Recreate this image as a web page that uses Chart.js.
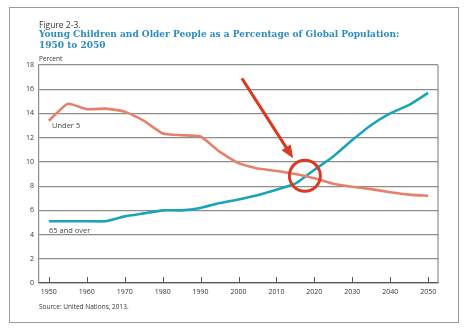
<!DOCTYPE html>
<html>
<head>
<meta charset="utf-8">
<script src="https://cdn.jsdelivr.net/npm/chart.js@4"></script>
<style>
  html, body { margin: 0; padding: 0; background: #fff; }
  #wrap { position: relative; width: 470px; height: 333px; overflow: hidden; }
  #frame { position: absolute; left: 9px; top: 7px; width: 448px; height: 314px; border: 1px solid #9a9a9a; }
  canvas { position: absolute; left: 0; top: 0; }
  .txt { position: absolute; font-family: "Open Sans", sans-serif; color: #333; white-space: nowrap; }
  #fig { left: 39px; top: 19px; font-size: 8.5px; }
  #title { left: 39px; top: 28px; font-family: "DejaVu Serif Condensed", "DejaVu Serif", serif; font-stretch: condensed; font-weight: bold; font-size: 10px; line-height: 11px; color: #2a8bc6; }
  #unit { left: 39px; top: 54px; font-size: 6.5px; }
  #src { left: 39px; top: 302px; font-size: 6.5px; }
  .lab { font-size: 7.5px; color: #444; }
</style>
</head>
<body>
<div id="wrap">
  <div id="frame"></div>
  <canvas id="chart" width="470" height="333"></canvas>
  <div class="txt" id="fig">Figure 2-3.</div>
  <div class="txt" id="title">Young Children and Older People as a Percentage of Global Population:<br>1950 to 2050</div>
  <div class="txt" id="unit">Percent</div>
  <div class="txt" id="src">Source: United Nations, 2013.</div>
  <div class="txt lab" id="labU5" style="left:52px;top:120px;">Under 5</div>
  <div class="txt lab" id="lab65" style="left:49px;top:225px;">65 and over</div>
</div>
<script>
const years = [1950, 1955, 1960, 1965, 1970, 1975, 1980, 1985, 1990, 1995, 2000,
  2005, 2010, 2015, 2020, 2025, 2030, 2035, 2040, 2045, 2050];
const under5 = [13.4, 14.8, 14.35, 14.4, 14.15, 13.4, 12.35, 12.2, 12.1, 10.85, 9.9,
  9.45, 9.25, 9.0, 8.65, 8.2, 7.95, 7.75, 7.5, 7.3, 7.2];
const over65 = [5.1, 5.1, 5.1, 5.1, 5.5, 5.75, 6.0, 6.0, 6.2, 6.6, 6.9,
  7.25, 7.7, 8.2, 9.35, 10.45, 11.8, 13.05, 14.0, 14.7, 15.7];
const xTicks = [1950, 1960, 1970, 1980, 1990, 2000, 2010, 2020, 2030, 2040, 2050];
const yTicks = [0, 2, 4, 6, 8, 10, 12, 14, 16, 18];

// annotation: arrow pointing at the crossover, and a circle round it
const arrowFrom = { x: 2000.9, y: 16.9 };
const arrowTo = { x: 2014.4, y: 10.3 };
const ringAt = { x: 2017.5, y: 8.85 };

const red = '#d93a22';

const annotate = {
  id: 'annotate',
  afterDatasetsDraw(chart) {
    const { ctx, scales: { x, y }, chartArea: a } = chart;
    ctx.save();
    // right edge of plot frame
    ctx.strokeStyle = '#8c8c8c';
    ctx.lineWidth = 1.2;
    ctx.beginPath();
    ctx.moveTo(a.right, a.top);
    ctx.lineTo(a.right, a.bottom);
    ctx.stroke();
    // small ticks rising from the x axis
    ctx.strokeStyle = '#555';
    ctx.lineWidth = 1;
    xTicks.forEach((t) => {
      const px = Math.round(x.getPixelForValue(t)) + 0.5;
      ctx.beginPath();
      ctx.moveTo(px, a.bottom);
      ctx.lineTo(px, a.bottom - 6);
      ctx.stroke();
    });
    // arrow
    const x0 = x.getPixelForValue(arrowFrom.x), y0 = y.getPixelForValue(arrowFrom.y);
    const x1 = x.getPixelForValue(arrowTo.x), y1 = y.getPixelForValue(arrowTo.y);
    const ang = Math.atan2(y1 - y0, x1 - x0);
    const head = 14;
    ctx.strokeStyle = red;
    ctx.fillStyle = red;
    ctx.lineWidth = 3;
    ctx.beginPath();
    ctx.moveTo(x0, y0);
    ctx.lineTo(x1 - Math.cos(ang) * head * 0.8, y1 - Math.sin(ang) * head * 0.8);
    ctx.stroke();
    ctx.beginPath();
    ctx.moveTo(x1, y1);
    ctx.lineTo(x1 - head * Math.cos(ang - 0.4), y1 - head * Math.sin(ang - 0.4));
    ctx.lineTo(x1 - head * Math.cos(ang + 0.4), y1 - head * Math.sin(ang + 0.4));
    ctx.closePath();
    ctx.fill();
    // ring
    ctx.lineWidth = 3;
    ctx.beginPath();
    ctx.arc(x.getPixelForValue(ringAt.x), y.getPixelForValue(ringAt.y), 15.5, 0, Math.PI * 2);
    ctx.stroke();
    ctx.restore();
  },
};

new Chart(document.getElementById('chart'), {
  type: 'line',
  data: {
    labels: years,
    datasets: [
      {
        label: 'Under 5',
        data: years.map((yr, i) => ({ x: yr, y: under5[i] })),
        borderColor: '#e7806a',
        borderWidth: 2.6,
        pointRadius: 0,
        tension: 0.15,
      },
      {
        label: '65 and over',
        data: years.map((yr, i) => ({ x: yr, y: over65[i] })),
        borderColor: '#1ba3b9',
        borderWidth: 2.6,
        pointRadius: 0,
        tension: 0.15,
      },
    ],
  },
  options: {
    responsive: false,
    animation: false,
    layout: { padding: { left: 0, right: 32, top: 65, bottom: 30 } },
    plugins: { legend: { display: false }, tooltip: { enabled: false } },
    scales: {
      x: {
        type: 'linear',
        min: 1947.4,
        max: 2052.6,
        afterBuildTicks: (s) => { s.ticks = xTicks.map((v) => ({ value: v })); },
        afterFit: (s) => { s.height = 20; },
        grid: { display: true, drawOnChartArea: false, drawTicks: false },
        border: { color: '#555', width: 1.2 },
        ticks: {
          color: '#333',
          padding: 5,
          maxRotation: 0,
          font: { family: 'Open Sans', size: 7 },
          callback: (v) => String(v),
        },
      },
      y: {
        min: 0,
        max: 18,
        afterBuildTicks: (s) => { s.ticks = yTicks.map((v) => ({ value: v })); },
        afterFit: (s) => { s.width = 39; },
        grid: { color: '#8c8c8c', lineWidth: 1.2, drawTicks: false },
        border: { color: '#8c8c8c', width: 1.2 },
        ticks: {
          color: '#333',
          padding: 5,
          font: { family: 'Open Sans', size: 7 },
        },
      },
    },
  },
  plugins: [annotate],
});
</script>
</body>
</html>
